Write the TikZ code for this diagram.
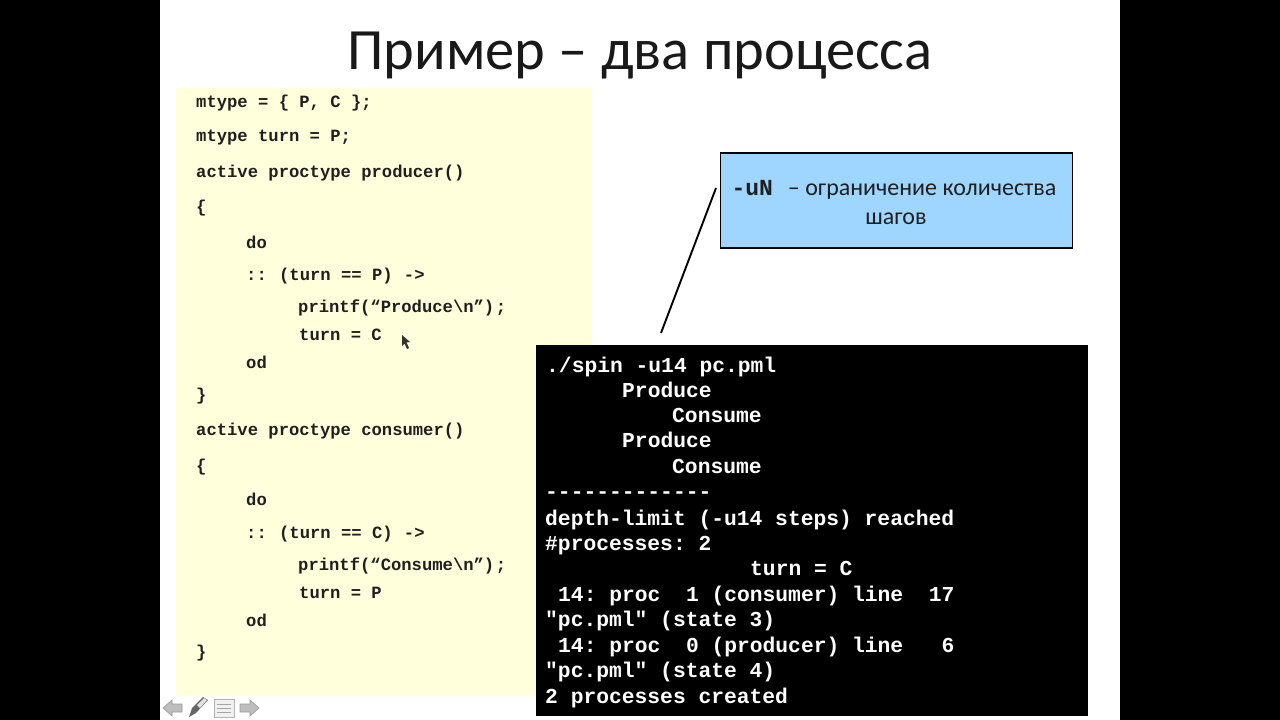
\documentclass[tikz,border=0pt]{standalone}
\usepackage{fontspec}
\setmainfont{Carlito}
\newfontfamily\mono{Liberation Mono}
\frenchspacing
\definecolor{slidebg}{RGB}{255,255,255}
\definecolor{codebg}{RGB}{255,255,219}
\definecolor{notebg}{RGB}{158,214,255}
\definecolor{iconc}{RGB}{190,190,190}
\tikzset{
  code/.style={anchor=base west,inner sep=0pt,font=\mono\bfseries\frenchspacing\fontsize{17.2pt}{17.2pt}\selectfont,text=black!88},
  term/.style={anchor=base west,inner sep=0pt,font=\mono\bfseries\frenchspacing\fontsize{21.3pt}{21.3pt}\selectfont,text=white},
  notetext/.style={anchor=base,inner sep=0pt,font=\fontsize{24pt}{24pt}\selectfont,text=black!88},
  navarrow/.style={fill=iconc,draw=black!40,line width=0.6pt},
}
\begin{document}
\begin{tikzpicture}[x=1pt,y=-1pt]
\useasboundingbox (0,0) rectangle (1280,720);
\fill[black] (0,0) rectangle (1280,720);
\fill[slidebg] (160,0) rectangle (1120,720);
\node[anchor=base,inner sep=0pt,font=\fontsize{58.5pt}{58.5pt}\selectfont,text=black!90] (title) at (640,69) {Пример – два процесса};
\fill[codebg] (176,88) rectangle (592,696);
\node[code] (c1) at (196,107) {mtype = \{ P, C \};};
\node[code] (c2) at (196,141) {mtype turn = P;};
\node[code] (c3) at (196,177) {active proctype producer()};
\node[code] (c4) at (196,212) {\{};
\node[code] (c5) at (246,248) {do};
\node[code] (c6) at (246,280) {::\hspace{2pt} (turn == P)\hspace{1pt} ->};
\node[code] (c7) at (298,312) {printf(“Produce\textbackslash n”)\hspace{1.5pt};};
\node[code] (c8) at (299,340) {turn = C};
\node[code] (c9) at (246,368) {od};
\node[code] (c10) at (196,400) {\}};
\node[code] (c11) at (196,435) {active proctype consumer()};
\node[code] (c12) at (196,471) {\{};
\node[code] (c13) at (246,505) {do};
\node[code] (c14) at (246,538) {::\hspace{2pt} (turn == C)\hspace{1pt} ->};
\node[code] (c15) at (298,570) {printf(“Consume\textbackslash n”)\hspace{1.5pt};};
\node[code] (c16) at (299,598) {turn = P};
\node[code] (c17) at (246,626) {od};
\node[code] (c18) at (196,657) {\}};
% mouse pointer
\fill[black!80] (402,335) -- (402,346) -- (404.5,343.5) -- (407,349) -- (409,348) -- (406.5,342.5) -- (410,342) -- cycle;
% note
\node[draw=black,line width=1.6pt,fill=notebg,minimum width=352pt,minimum height=95pt,inner sep=0pt,anchor=north west] (note) at (719.6,152) {};
\node[notetext] (n1) at (894,195) {{\mono\bfseries\fontsize{23pt}{23pt}\selectfont -uN}\hspace{0.62em}– ограничение количества};
\node[notetext] (n2) at (896,224) {шагов};
% terminal
\fill[black] (536,345) rectangle (1088,716);
\node[term] (t1) at (546,372) {./spin -u14 pc.pml};
\node[term] (t2) at (622,397) {Produce};
\node[term] (t3) at (672,422) {Consume};
\node[term] (t4) at (622,447) {Produce};
\node[term] (t5) at (672,473) {Consume};
\node[term] (t6) at (545,498) {-------------};
\node[term] (t7) at (545,525) {depth-limit (-u14 steps) reached};
\node[term] (t8) at (545,550) {\#processes: 2};
\node[term] (t9) at (750,575) {turn = C};
\node[term] (t10) at (558,601) {14: proc\ \ 1 (consumer) line\ \ 17};
\node[term] (t11) at (545,626) {"pc.pml" (state 3)};
\node[term] (t12) at (558,652) {14: proc\ \ 0 (producer) line\ \ \ 6};
\node[term] (t13) at (545,677) {"pc.pml" (state 4)};
\node[term] (t14) at (545,703) {2 processes created};
% callout leader
\coordinate (lead) at (661,333);
\coordinate (leadend) at (716,188);
\draw[black,line width=1.9pt] (lead) -- (leadend);
% nav icons
\draw[navarrow] (163,708) -- (172,700) -- (172,704) -- (182,704) -- (182,712) -- (172,712) -- (172,716) -- cycle;
\draw[navarrow] (259,708) -- (250,700) -- (250,704) -- (240,704) -- (240,712) -- (250,712) -- (250,716) -- cycle;
\fill[black!60] (189,717) -- (192,708) -- (203,697) -- (208,700) -- (196,713) -- cycle;
\fill[iconc!45] (197,705) -- (204,698) -- (207,700) -- (200,708) -- cycle;
\draw[black!30,fill=black!6,line width=0.6pt] (214,699) rectangle (234,717);
\draw[black!35,line width=1pt] (217,704) -- (231,704) (217,708) -- (231,708) (217,712) -- (231,712);
\end{tikzpicture}
\end{document}
